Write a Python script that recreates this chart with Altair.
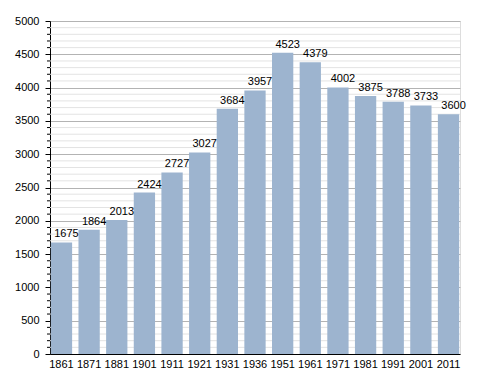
import altair as alt
import pandas as pd

years = ["1861", "1871", "1881", "1901", "1911", "1921", "1931", "1936",
         "1951", "1961", "1971", "1981", "1991", "2001", "2011"]
population = [1675, 1864, 2013, 2424, 2727, 3027, 3684, 3957,
              4523, 4379, 4002, 3875, 3788, 3733, 3600]
major_ticks = list(range(0, 5001, 500))
minor_ticks = [v for v in range(0, 5001, 100) if v % 500 != 0]

df = pd.DataFrame({"year": years, "pop": population})
minor_df = pd.DataFrame({"v": minor_ticks})

FONT = "Liberation Sans"
yscale = alt.Scale(domain=[0, 5000], nice=False)
xscale = alt.Scale(paddingInner=0.23, paddingOuter=0.03)
yaxis = alt.Axis(values=major_ticks, format="d", grid=True, gridColor="#b3b3b3",
                 tickColor="black", tickSize=5, labelPadding=6,
                 domainColor="black", labelFontSize=11,
                 labelFont=FONT, labelColor="black")

minor_grid = alt.Chart(minor_df).mark_rule(color="#e3e3e3", strokeWidth=1).encode(
    y=alt.Y("v:Q", scale=yscale, axis=yaxis, title=None),
    x=alt.value(0), x2=alt.value(410),
)
minor_tick = alt.Chart(minor_df).mark_rule(color="black", strokeWidth=1).encode(
    y=alt.Y("v:Q", scale=yscale, axis=yaxis, title=None),
    x=alt.value(-3), x2=alt.value(0),
)

bars = alt.Chart(df).mark_bar(color="#9db4cf").encode(
    x=alt.X("year:N", sort=years, scale=xscale, title=None,
            axis=alt.Axis(labelAngle=0, ticks=False, labelPadding=4,
                          domainColor="black", labelFontSize=11,
                          labelFont=FONT, labelColor="black")),
    y=alt.Y("pop:Q", scale=yscale, title=None, axis=yaxis),
)

labels = alt.Chart(df).mark_text(baseline="alphabetic", dx=5, dy=-5, fontSize=11,
                                 font=FONT, color="black").encode(
    x=alt.X("year:N", sort=years, scale=xscale),
    y=alt.Y("pop:Q", scale=yscale, axis=yaxis, title=None),
    text=alt.Text("pop:Q", format="d"),
)

chart = alt.layer(minor_grid, minor_tick, bars, labels).properties(
    width=410, height=333,
    autosize=alt.AutoSizeParams(type="none"),
    padding={"left": 42, "top": 13, "right": 20, "bottom": 19},
).configure_view(stroke=None).configure(background="white")

chart.save("out.html", embed_options={"renderer": "svg", "actions": False})
